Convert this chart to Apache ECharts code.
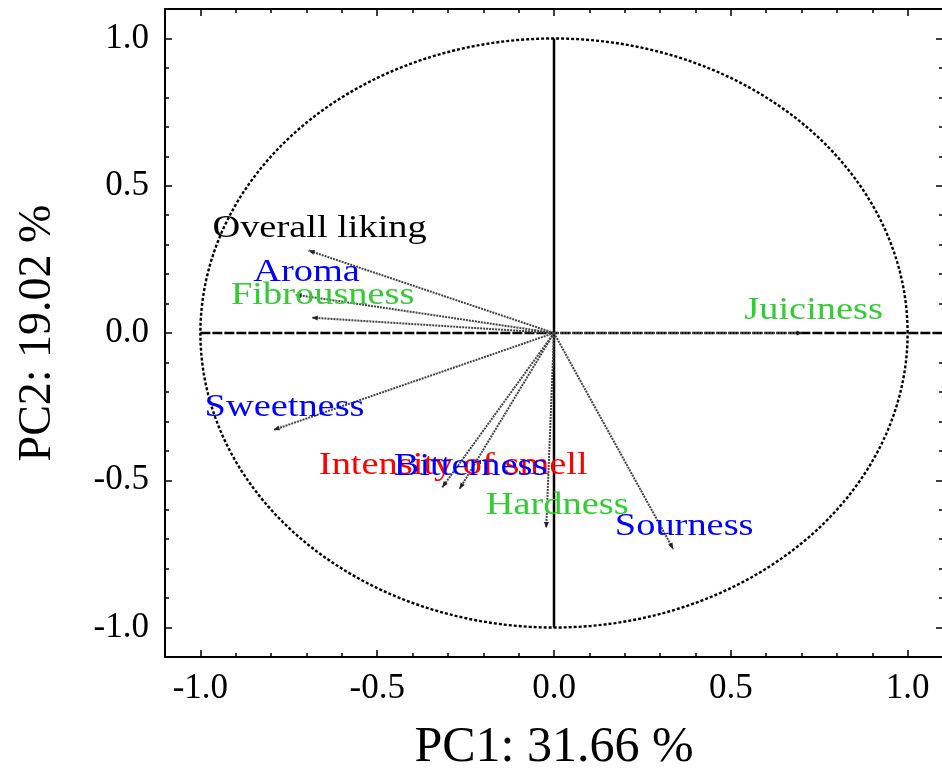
<!DOCTYPE html>
<html>
<head>
<meta charset="utf-8">
<script src="https://cdn.jsdelivr.net/npm/echarts@6/dist/echarts.min.js"></script>
<style>
  html, body { margin: 0; padding: 0; background: #fff; }
  #chart { width: 942px; height: 773px; }
</style>
</head>
<body>
<div id="chart"></div>
<script>
// Loadings of the sensory attributes on the first two principal components
const attributes = ['Overall liking', 'Aroma', 'Fibrousness', 'Juiciness', 'Sweetness',
                    'Intensity of smell', 'Bitterness', 'Hardness', 'Sourness'];
const pc1 = [-0.694, -0.731, -0.685, 0.703, -0.793, -0.316, -0.267, -0.022, 0.337];
const pc2 = [0.280, 0.130, 0.052, 0.000, -0.329, -0.524, -0.529, -0.662, -0.733];
const labelColors = ['#000000', '#0000ff', '#33cc33', '#33cc33', '#0000ff',
                     '#ff0000', '#0000ff', '#33cc33', '#0000ff'];
const tickValues = [-1.0, -0.5, 0.0, 0.5, 1.0];
const axisMin = -1.1, axisMax = 1.1;
const xTitle = 'PC1: 31.66 %';
const yTitle = 'PC2: 19.02 %';

const SERIF = '"Liberation Serif", "Times New Roman", "DejaVu Serif", serif';
const STRETCH = 1.2; // horizontal stretch applied to plot text

function mainAxis(pos, title, gap, isX) {
  return {
    type: 'value', position: pos, min: axisMin, max: axisMax, interval: 0.1,
    name: title, nameLocation: 'middle', nameGap: gap,
    nameTextStyle: { fontFamily: SERIF, fontSize: isX ? 50 : 46, color: '#000' },
    axisLine: { show: true, onZero: false, lineStyle: { color: '#000', width: 2 } },
    axisTick: { show: true, inside: true, length: 4, lineStyle: { color: '#000', width: 1.5 } },
    axisLabel: {
      show: true, customValues: tickValues, fontFamily: SERIF, fontSize: 35, color: '#000',
      margin: isX ? 14 : 16, formatter: v => v.toFixed(1)
    },
    splitLine: { show: false }
  };
}
function mirrorAxis(pos) {
  return {
    type: 'value', position: pos, min: axisMin, max: axisMax, interval: 0.1,
    axisLine: { show: true, onZero: false, lineStyle: { color: '#000', width: 2 } },
    axisTick: { show: true, inside: true, length: 4, lineStyle: { color: '#000', width: 1.5 } },
    axisLabel: { show: false }, splitLine: { show: false }
  };
}
function majorTickAxis(pos) {
  return {
    type: 'value', position: pos, min: axisMin, max: axisMax, interval: 0.1,
    axisLine: { show: false, onZero: false },
    axisTick: { show: true, inside: true, length: 7, customValues: tickValues,
                lineStyle: { color: '#000', width: 1.5 } },
    axisLabel: { show: false }, splitLine: { show: false }
  };
}

const loadings = attributes.map((n, i) => [pc1[i], pc2[i], n, labelColors[i]]);

const option = {
  backgroundColor: '#fff',
  animation: false,
  grid: { left: 165, top: 9, width: 778, height: 648, containLabel: false, outerBoundsMode: 'none' },
  xAxis: [mainAxis('bottom', xTitle, 66, true), majorTickAxis('bottom'),
          mirrorAxis('top'), majorTickAxis('top')],
  yAxis: [mainAxis('left', yTitle, 104, false), majorTickAxis('left'),
          mirrorAxis('right'), majorTickAxis('right')],
  series: [
    {
      // unit correlation circle and the reference cross
      type: 'custom', xAxisIndex: 0, yAxisIndex: 0, clip: false, silent: true,
      data: [[0, 0]],
      renderItem: (params, api) => {
        const pts = [];
        for (let a = 0; a <= 360; a += 2) {
          const t = a * Math.PI / 180;
          pts.push(api.coord([Math.cos(t), Math.sin(t)]));
        }
        const h1 = api.coord([-1, 0]), h2 = api.coord([axisMax, 0]);
        const v1 = api.coord([0, -1]), v2 = api.coord([0, 1]);
        return {
          type: 'group', children: [
            { type: 'polyline', shape: { points: pts },
              style: { stroke: '#000', lineWidth: 2.4, fill: null, lineDash: [3, 2] } },
            { type: 'line', shape: { x1: h1[0], y1: h1[1], x2: h2[0], y2: h2[1] },
              style: { stroke: '#000', lineWidth: 2.4, lineDash: [10, 2] } },
            { type: 'line', shape: { x1: v1[0], y1: v1[1], x2: v2[0], y2: v2[1] },
              style: { stroke: '#000', lineWidth: 2.5 } }
          ]
        };
      }
    },
    {
      // loading vectors with arrowheads
      type: 'custom', xAxisIndex: 0, yAxisIndex: 0, clip: false, silent: true,
      data: loadings,
      renderItem: (params, api) => {
        const o = api.coord([0, 0]);
        const p = api.coord([api.value(0), api.value(1)]);
        const dx = p[0] - o[0], dy = p[1] - o[1];
        const len = Math.sqrt(dx * dx + dy * dy) || 1;
        const ux = dx / len, uy = dy / len;
        const hl = 6, hw = 2.5;
        const bx = p[0] - ux * hl, by = p[1] - uy * hl;
        return {
          type: 'group', children: [
            { type: 'line', shape: { x1: o[0], y1: o[1], x2: p[0], y2: p[1] },
              style: { stroke: '#444', lineWidth: 2, lineDash: [2, 1] } },
            { type: 'polygon', shape: { points: [p, [bx - uy * hw, by + ux * hw], [bx + uy * hw, by - ux * hw]] },
              style: { fill: '#222', stroke: null } }
          ]
        };
      }
    },
    {
      // attribute names
      type: 'custom', xAxisIndex: 0, yAxisIndex: 0, clip: false, silent: true, z: 5,
      data: loadings,
      renderItem: (params, api) => {
        const p = api.coord([api.value(0), api.value(1)]);
        const d = loadings[params.dataIndex];
        return {
          type: 'text', x: p[0] + 11, y: p[1] - 22, scaleX: STRETCH,
          style: { text: d[2], fill: d[3], font: '32px ' + SERIF,
                   align: 'center', verticalAlign: 'middle' }
        };
      }
    }
  ]
};

echarts.init(document.getElementById('chart'), null, { renderer: 'canvas' }).setOption(option);
</script>
</body>
</html>
